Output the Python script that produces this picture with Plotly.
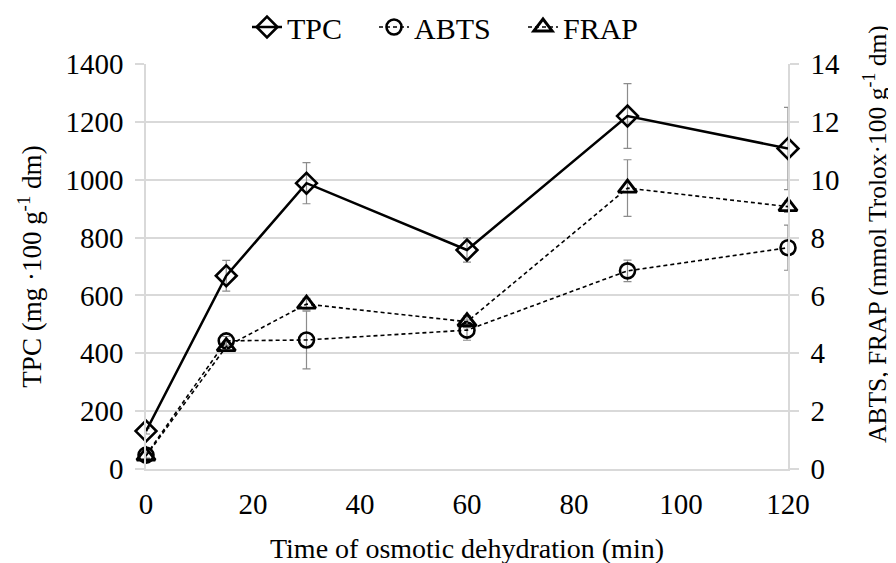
import plotly.graph_objects as go

time_min = [0, 15, 30, 60, 90, 120]
tpc = [131, 668, 988, 757, 1220, 1108]
tpc_err = [10, 53, 71, 42, 112, 142]
abts = [0.48, 4.43, 4.46, 4.80, 6.85, 7.65]
abts_err = [0.1, 0.15, 1.0, 0.35, 0.37, 0.78]
frap = [0.45, 4.23, 5.70, 5.09, 9.71, 9.07]
frap_err = [0.1, 0.15, 0.2, 0.2, 0.98, 0.2]

left_ticks = [0, 200, 400, 600, 800, 1000, 1200, 1400]
right_ticks = [0, 2, 4, 6, 8, 10, 12, 14]
x_ticks = [0, 20, 40, 60, 80, 100, 120]

FONT = "Liberation Serif, Times New Roman, serif"
GRID = "#d9d9d9"
ERR = "#8c8c8c"

L, T, PW, PH = 138, 56, 642, 405
W, H = 896, 563

def px_x(px):
    return (px - L) / PW

def px_y(py):
    return (T + PH - py) / PH

fig = go.Figure()
fig.add_trace(go.Scatter(
    x=time_min, y=tpc, name="TPC", mode="lines+markers",
    line=dict(color="black", width=2.5),
    marker=dict(symbol="diamond-open", size=16, color="black", line=dict(width=2.6)),
    error_y=dict(type="data", array=tpc_err, color=ERR, thickness=1.2, width=4),
    cliponaxis=False, yaxis="y", legend="legend"))
fig.add_trace(go.Scatter(
    x=time_min, y=abts, name="ABTS", mode="lines+markers",
    line=dict(color="black", width=1.6, dash="4px,3px"),
    marker=dict(symbol="circle-open", size=15, color="black", line=dict(width=2.6)),
    error_y=dict(type="data", array=abts_err, color=ERR, thickness=1.2, width=4),
    cliponaxis=False, yaxis="y2", legend="legend2"))
fig.add_trace(go.Scatter(
    x=time_min, y=frap, name="FRAP", mode="lines+markers",
    line=dict(color="black", width=1.6, dash="4px,3px"),
    marker=dict(symbol="triangle-up-open", size=16, color="black", line=dict(width=2.9)),
    error_y=dict(type="data", array=frap_err, color=ERR, thickness=1.2, width=4),
    cliponaxis=False, yaxis="y2", legend="legend3"))

leg_common = dict(orientation="h", yref="paper", y=px_y(19), yanchor="middle",
                  xanchor="left", font=dict(size=30), bgcolor="rgba(0,0,0,0)")

fig.update_layout(
    width=W, height=H,
    margin=dict(l=L, r=W - L - PW, t=T, b=H - T - PH, autoexpand=False),
    paper_bgcolor="white", plot_bgcolor="white",
    font=dict(family=FONT, size=28, color="black"),
    showlegend=True,
    legend=dict(x=px_x(239), **leg_common),
    legend2=dict(x=px_x(366), **leg_common),
    legend3=dict(x=px_x(515), **leg_common),
    xaxis=dict(range=[0, 120], tickvals=x_ticks, showgrid=False, zeroline=False,
               showline=True, linecolor=GRID, linewidth=1.5, ticks="",
               tickfont=dict(size=29), ticklabelstandoff=8, automargin=False,
               title=dict(text="Time of osmotic dehydration (min)", font=dict(size=28), standoff=20)),
    yaxis=dict(range=[0, 1400], tickvals=left_ticks, showgrid=True, gridcolor=GRID, gridwidth=1.5,
               zeroline=False, showline=True, linecolor=GRID, linewidth=1.5,
               ticks="outside", ticklen=9, tickcolor=GRID, tickwidth=1.5,
               tickfont=dict(size=29), ticklabelstandoff=6, automargin=False,
               title=dict(text="TPC (mg ·100 g<sup>-1</sup> dm)", font=dict(size=27), standoff=16)),
    yaxis2=dict(range=[0, 14], tickvals=right_ticks, overlaying="y", side="right",
                showgrid=False, zeroline=False, showline=True, linecolor=GRID, linewidth=1.5,
                ticks="outside", ticklen=9, tickcolor=GRID, tickwidth=1.5,
                tickfont=dict(size=29), ticklabelstandoff=6, automargin=False),
    annotations=[dict(text="ABTS, FRAP (mmol Trolox·100 g<sup>-1</sup> dm)",
                      xref="paper", yref="paper", x=px_x(867), y=px_y(226),
                      xanchor="center", yanchor="middle", textangle=-90,
                      showarrow=False, font=dict(size=25.5))],
)

fig.write_html("out.html")
